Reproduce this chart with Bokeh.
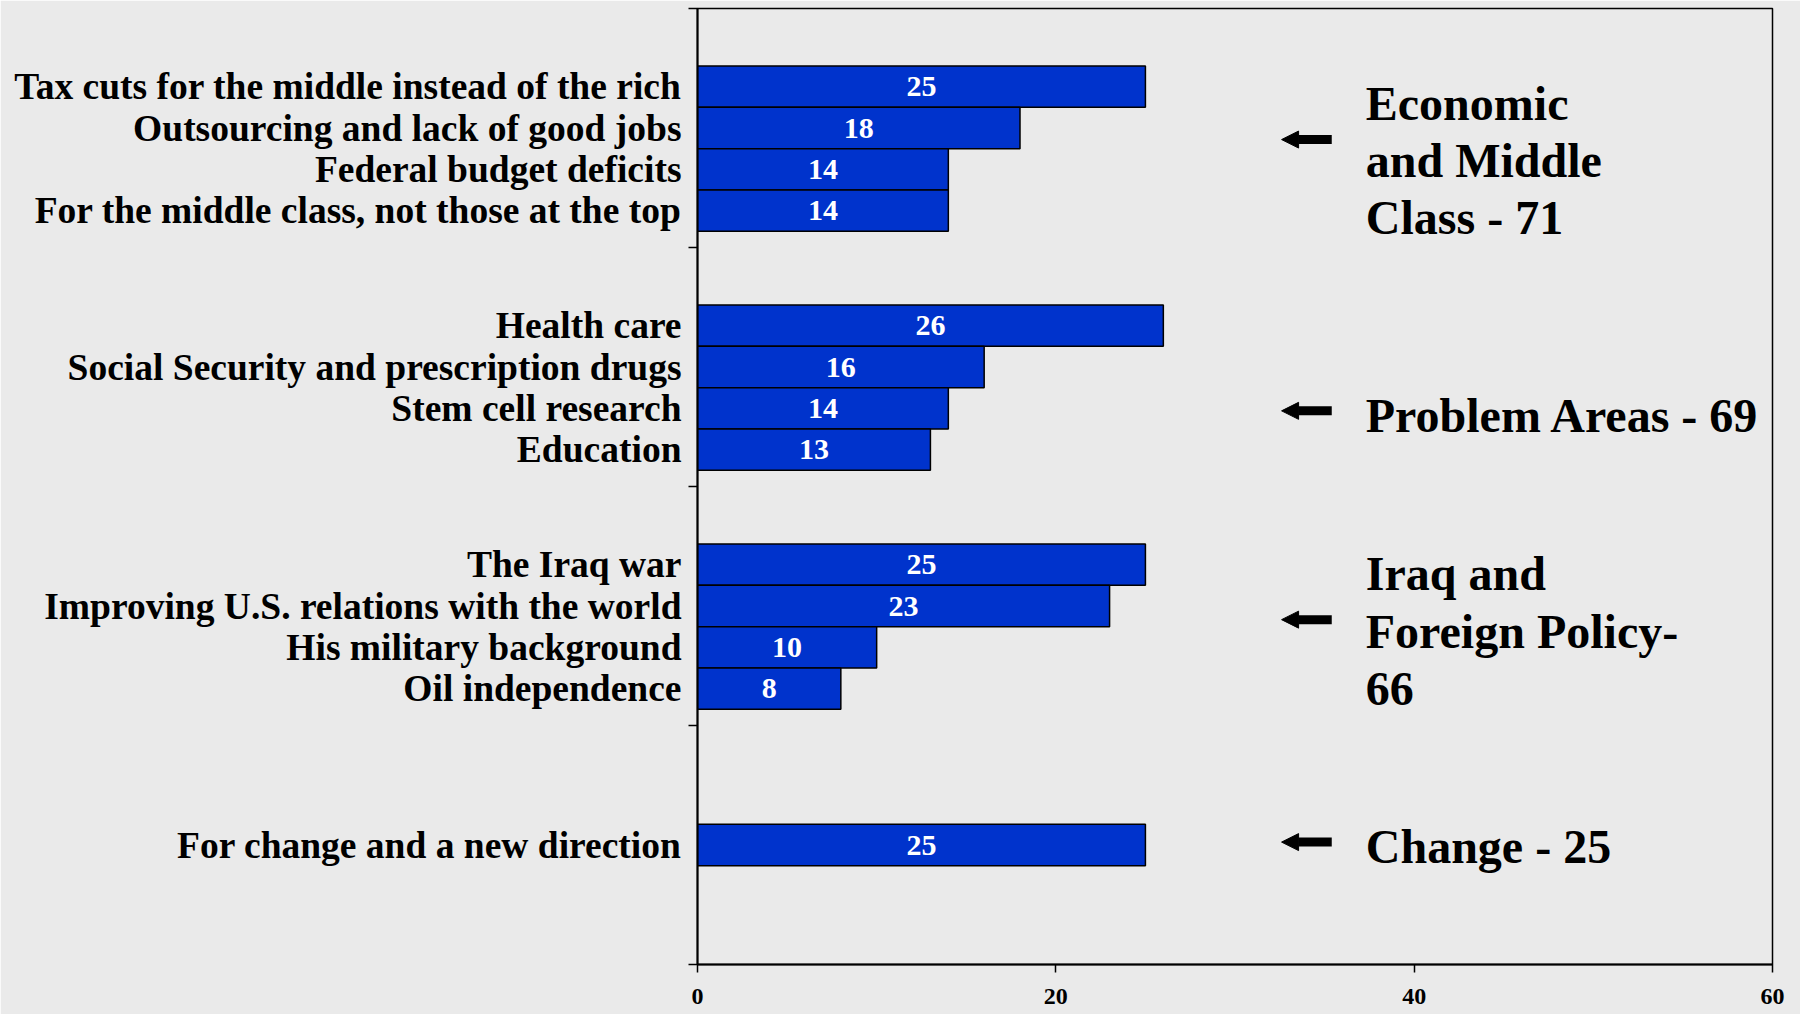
from bokeh.plotting import figure
from bokeh.models import Range1d, FixedTicker, Arrow, NormalHead, ColumnDataSource
from bokeh.core.properties import value
from bokeh.embed import file_html
from bokeh.resources import INLINE

# ---------------- data ----------------
items_economic = ["Tax cuts for the middle instead of the rich",
                  "Outsourcing and lack of good jobs",
                  "Federal budget deficits",
                  "For the middle class, not those at the top"]
values_economic = [25, 18, 14, 14]

items_problem = ["Health care",
                 "Social Security and prescription drugs",
                 "Stem cell research",
                 "Education"]
values_problem = [26, 16, 14, 13]

items_iraq = ["The Iraq war",
              "Improving U.S. relations with the world",
              "His military background",
              "Oil independence"]
values_iraq = [25, 23, 10, 8]

items_change = ["For change and a new direction"]
values_change = [25]

group_titles = ["Economic\nand Middle\nClass - 71",
                "Problem Areas - 69",
                "Iraq and\nForeign Policy-\n66",
                "Change - 25"]

x_ticks = [0, 20, 40, 60]

# ---------------- layout ----------------
FONT = "Liberation Serif"
GROUP_H = 5.78                      # group height in bar units
TOP_GAP = [1.39, 1.39, 1.39, 2.39]  # gap above first bar of each group
TITLE_DY = [0.28, 0.67, 0.11, 0.04]
ARROW_DY = [-0.22, 0.56, -0.17, -0.07]
ARROW_X0, ARROW_X1, TITLE_X = 35.4, 32.6, 37.3

groups = [(items_economic, values_economic), (items_problem, values_problem),
          (items_iraq, values_iraq), (items_change, values_change)]
total = GROUP_H * len(groups)

ys, labels, vals, centers = [], [], [], []
for g, (items, vs) in enumerate(groups):
    top = g * GROUP_H + TOP_GAP[g]
    gy = []
    for i, (lab, v) in enumerate(zip(items, vs)):
        y = round(top + i + 0.5, 6)
        ys.append(y); labels.append(lab); vals.append(v); gy.append(y)
    centers.append(sum(gy) / len(gy))

src = ColumnDataSource(dict(y=ys, v=vals, mid=[v / 2 for v in vals],
                            txt=[str(v) for v in vals]))

p = figure(width=1800, height=1014, x_range=Range1d(0, 60),
           y_range=Range1d(total, 0), output_backend="svg",
           toolbar_location=None, min_border_left=697, min_border_right=28,
           min_border_top=8, min_border_bottom=50,
           background_fill_color="#EAEAEA", border_fill_color="#EAEAEA")

p.hbar(y="y", left=0, right="v", height=1, source=src,
       fill_color="#0033CC", line_color="black", line_width=1.5)
p.text(x="mid", y="y", text="txt", source=src, text_color="white",
       text_font=value(FONT), text_font_style="bold", text_font_size="30px",
       text_align="center", text_baseline="middle")

# right-hand group annotations
for g in range(len(groups)):
    ya = centers[g] + ARROW_DY[g]
    p.add_layout(Arrow(end=NormalHead(size=17, fill_color="black",
                                      line_color="black", line_width=1),
                       x_start=ARROW_X0, x_end=ARROW_X1, y_start=ya, y_end=ya,
                       line_width=9, line_color="black"))
p.text(x=[TITLE_X] * len(groups),
       y=[c + d for c, d in zip(centers, TITLE_DY)], text=group_titles,
       text_color="black", text_font=value(FONT), text_font_style="bold",
       text_font_size="48px", text_align="left", text_baseline="middle",
       text_line_height=1.08)

# axes
p.grid.visible = False
p.outline_line_color = "black"
p.outline_line_width = 1.5

xa = p.xaxis[0]
xa.ticker = FixedTicker(ticks=x_ticks)
xa.major_tick_out = 8
xa.major_tick_in = 0
xa.axis_line_width = 2
xa.major_tick_line_width = 1.5
xa.major_label_standoff = 16
xa.major_label_text_font = FONT
xa.major_label_text_font_style = "bold"
xa.major_label_text_font_size = "24px"
xa.major_label_text_color = "black"

ya_ = p.yaxis[0]
ya_.ticker = FixedTicker(ticks=ys,
                         minor_ticks=[round(g * GROUP_H, 6) for g in range(len(groups) + 1)])
ya_.major_label_overrides = {y: lab for y, lab in zip(ys, labels)}
ya_.major_tick_out = 0
ya_.major_tick_in = 0
ya_.minor_tick_out = 9
ya_.minor_tick_in = 0
ya_.minor_tick_line_color = "black"
ya_.minor_tick_line_width = 1.5
ya_.axis_line_width = 2
ya_.major_label_standoff = 7
ya_.major_label_text_font = FONT
ya_.major_label_text_font_style = "bold"
ya_.major_label_text_font_size = "37.5px"
ya_.major_label_text_color = "black"

open("out.html", "w").write(file_html(p, INLINE))
